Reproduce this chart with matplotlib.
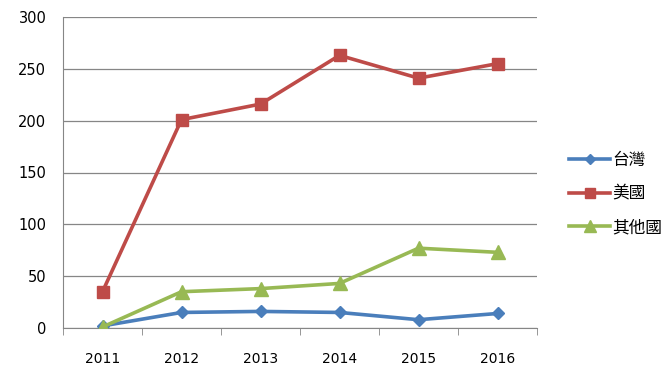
import matplotlib
matplotlib.use('Agg')
import matplotlib.pyplot as plt

# data
years = ["2011", "2012", "2013", "2014", "2015", "2016"]
taiwan = [2, 15, 16, 15, 8, 14]
usa = [35, 201, 216, 263, 241, 255]
others = [1, 35, 38, 43, 77, 73]

plt.rcParams['font.family'] = ['DejaVu Sans', 'Noto Sans CJK TC']

fig = plt.figure(figsize=(6.68, 3.87), dpi=100)
ax = fig.add_axes([63 / 668, 59 / 387, 474 / 668, 311 / 387])

x = list(range(len(years)))
ax.plot(x, taiwan, color="#4A7EBB", lw=2.6, marker="D", ms=6.5, label="台灣", zorder=3)
ax.plot(x, usa, color="#BE4B48", lw=2.6, marker="s", ms=9, label="美國", zorder=3)
ax.plot(x, others, color="#98B954", lw=2.6, marker="^", ms=10, label="其他國", zorder=3)

ax.set_xlim(-0.5, len(years) - 0.5)
ax.set_ylim(0, 300)
ax.set_yticks(range(0, 301, 50))
ax.set_xticks(x)
ax.set_xticklabels(years)
ax.set_xticks([i - 0.5 for i in range(len(years) + 1)], minor=True)
ax.tick_params(axis="x", which="major", length=0, pad=17, labelsize=10)
ax.tick_params(axis="x", which="minor", length=5, color="#868686")
ax.tick_params(axis="y", length=0, pad=12, labelsize=10.5)

ax.grid(axis="y", color="#868686", lw=0.9)
ax.set_axisbelow(True)
for s in ["top", "right"]:
    ax.spines[s].set_visible(False)
ax.spines["left"].set_color("#868686")
ax.spines["bottom"].set_color("#868686")

leg = ax.legend(loc="center left", bbox_to_anchor=(562 / 668, 193 / 387),
                bbox_transform=fig.transFigure, frameon=False, markerscale=0.8,
                prop={'family': ['Noto Sans CJK TC', 'DejaVu Sans'], 'size': 12},
                handlelength=2.5, handletextpad=0.1, labelspacing=1.0, borderaxespad=0)

plt.savefig("out.png", dpi=100)
